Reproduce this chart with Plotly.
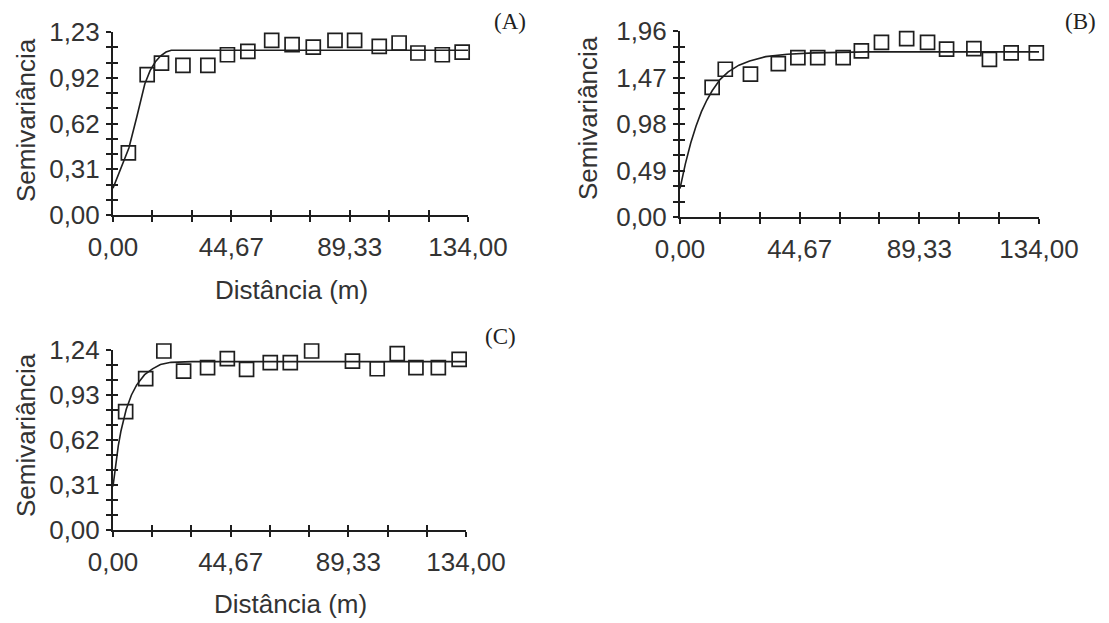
import plotly.graph_objects as go

# ---------------- data ----------------
# Panel A
a_dist = [5.8, 12.9, 18.3, 26.4, 35.8, 43.2, 50.9, 59.9, 67.6, 75.6, 83.8, 91.2, 100.5, 108.0, 115.1, 124.3, 131.8]
a_semi = [0.417, 0.943, 1.021, 1.006, 1.006, 1.077, 1.100, 1.174, 1.145, 1.129, 1.174, 1.174, 1.133, 1.156, 1.089, 1.077, 1.095]
a_model_dist = [0, 3, 6, 9, 12, 14, 16, 18, 20, 22, 134]
a_model_semi = [0.18, 0.31, 0.45, 0.66, 0.88, 0.97, 1.03, 1.07, 1.095, 1.107, 1.107]

# Panel B
b_dist = [12.0, 16.9, 26.3, 36.7, 44.0, 51.4, 60.9, 67.7, 75.2, 84.6, 92.4, 99.5, 109.7, 115.5, 123.6, 133.0]
b_semi = [1.365, 1.557, 1.505, 1.617, 1.680, 1.680, 1.680, 1.750, 1.840, 1.880, 1.840, 1.770, 1.775, 1.660, 1.730, 1.730]
b_model_dist = [0, 2, 4, 6, 8, 10, 12, 15, 18, 22, 26, 32, 40, 50, 70, 134]
b_model_semi = [0.30, 0.56, 0.78, 0.96, 1.11, 1.23, 1.33, 1.45, 1.53, 1.60, 1.645, 1.69, 1.715, 1.73, 1.74, 1.74]

# Panel C
c_dist = [4.8, 12.4, 19.3, 26.8, 35.9, 43.4, 50.7, 59.7, 67.3, 75.4, 83.7, 90.9, 100.3, 107.9, 115.0, 123.5, 131.4]
c_semi = [0.815, 1.043, 1.233, 1.095, 1.118, 1.180, 1.107, 1.153, 1.153, 1.233, 1.245, 1.164, 1.111, 1.215, 1.118, 1.118, 1.176]
c_model_dist = [0, 1, 2, 3, 4, 5, 7, 9, 12, 15, 18, 22, 30, 134]
c_model_semi = [0.30, 0.45, 0.58, 0.68, 0.76, 0.83, 0.93, 1.00, 1.07, 1.11, 1.14, 1.155, 1.16, 1.16]

# tick labels
x_max = 134.0
x_tick_labels = ["0,00", "44,67", "89,33", "134,00"]
a_y_max = 1.23
a_y_labels = ["0,00", "0,31", "0,62", "0,92", "1,23"]
b_y_max = 1.96
b_y_labels = ["0,00", "0,49", "0,98", "1,47", "1,96"]
c_y_max = 1.24
c_y_labels = ["0,00", "0,31", "0,62", "0,93", "1,24"]
panel_letters = ["(A)", "(B)", "(C)"]
x_title = "Distância (m)"
y_title = "Semivariância"

# ---------------- figure ----------------
W, H = 1109, 623
INK = "#1e1e1e"
TXT = "#333333"
FONT = "Liberation Sans, Arial, sans-serif"
TICKFONT = dict(family=FONT, size=26, color=TXT)


def px_x(p):
    return p / W


def px_y(p):
    return 1 - p / H


def ticks(vmax, n_minor_per_major, labels):
    n = (len(labels) - 1) * n_minor_per_major
    vals = [vmax * i / n for i in range(n + 1)]
    text = []
    for i in range(n + 1):
        text.append(labels[i // n_minor_per_major] if i % n_minor_per_major == 0 else "")
    return vals, text


panels = [
    dict(dist=a_dist, semi=a_semi, mx=a_model_dist, my=a_model_semi, ymax=a_y_max, ylab=a_y_labels,
         xd=(113, 468), yd=(215, 32)),
    dict(dist=b_dist, semi=b_semi, mx=b_model_dist, my=b_model_semi, ymax=b_y_max, ylab=b_y_labels,
         xd=(680, 1039), yd=(217, 31)),
    dict(dist=c_dist, semi=c_semi, mx=c_model_dist, my=c_model_semi, ymax=c_y_max, ylab=c_y_labels,
         xd=(113, 466), yd=(530, 350)),
]

fig = go.Figure()
layout = dict(
    width=W, height=H,
    margin=dict(l=0, r=0, t=0, b=0, autoexpand=False),
    paper_bgcolor="white", plot_bgcolor="rgba(0,0,0,0)",
    showlegend=False,
)

for i, p in enumerate(panels):
    k = i + 1
    ko = i + 4
    xs = "" if k == 1 else str(k)
    ys = xs
    xvals, xtext = ticks(x_max, 3, x_tick_labels)
    yvals, ytext = ticks(p["ymax"], 3, p["ylab"])
    xdom = [px_x(p["xd"][0]), px_x(p["xd"][1])]
    ydom = [px_y(p["yd"][0]), px_y(p["yd"][1])]

    # fitted model on the main axes
    fig.add_trace(go.Scatter(
        x=p["mx"], y=p["my"], mode="lines",
        line=dict(color=INK, width=1.6),
        xaxis="x" + xs, yaxis="y" + ys, cliponaxis=False, hoverinfo="skip"))
    # experimental points on the overlay axes (same ranges) -> inner halves of crossing ticks
    fig.add_trace(go.Scatter(
        x=p["dist"], y=p["semi"], mode="markers",
        marker=dict(symbol="square-open", size=14, color=INK, line=dict(width=1.7, color=INK)),
        xaxis="x" + str(ko), yaxis="y" + str(ko), cliponaxis=False))

    common_x = dict(range=[0, x_max], tickvals=xvals, showgrid=False, zeroline=False,
                    fixedrange=True, automargin=False)
    common_y = dict(range=[0, p["ymax"]], tickvals=yvals, showgrid=False, zeroline=False,
                    fixedrange=True, automargin=False)

    layout["xaxis" + xs] = dict(
        **common_x, domain=xdom, anchor="y" + ys,
        ticktext=xtext, ticks="outside", ticklen=5, tickwidth=1.8, tickcolor=INK,
        showline=True, linecolor=INK, linewidth=2,
        tickfont=TICKFONT, ticklabelstandoff=3)
    layout["yaxis" + ys] = dict(
        **common_y, domain=ydom, anchor="x" + xs,
        ticktext=ytext, ticks="outside", ticklen=5, tickwidth=1.8, tickcolor=INK,
        showline=True, linecolor=INK, linewidth=2,
        tickfont=TICKFONT, ticklabelstandoff=1)
    layout["xaxis" + str(ko)] = dict(
        **common_x, domain=xdom, overlaying="x" + xs, anchor="y" + ys, side="bottom",
        ticks="inside", ticklen=5, tickwidth=1.8, tickcolor=INK,
        showline=False, showticklabels=False)
    layout["yaxis" + str(ko)] = dict(
        **common_y, domain=ydom, overlaying="y" + ys, anchor="x" + xs, side="left",
        ticks="inside", ticklen=5, tickwidth=1.8, tickcolor=INK,
        showline=False, showticklabels=False)

annotations = []
# y titles
for xc, yc in [(26, 120), (588, 118), (26, 435)]:
    annotations.append(dict(
        text=y_title, x=px_x(xc), y=px_y(yc), xref="paper", yref="paper",
        showarrow=False, textangle=-90, xanchor="center", yanchor="middle",
        font=dict(family=FONT, size=26, color=TXT)))
# x titles
for xc, yc in [(291, 290), (290, 604)]:
    annotations.append(dict(
        text=x_title, x=px_x(xc), y=px_y(yc), xref="paper", yref="paper",
        showarrow=False, xanchor="center", yanchor="middle",
        font=dict(family=FONT, size=26, color=TXT)))
# panel letters
for lab, (xc, yc) in zip(panel_letters, [(510, 22), (1080, 22), (500, 336)]):
    annotations.append(dict(
        text=lab, x=px_x(xc), y=px_y(yc), xref="paper", yref="paper",
        showarrow=False, xanchor="center", yanchor="middle",
        font=dict(family="Liberation Serif, Times New Roman, serif", size=23, color="#222222")))

layout["annotations"] = annotations
fig.update_layout(**layout)
fig.write_html(
    "out.html",
    config={"displayModeBar": False},
    post_script="document.body.style.margin='0';document.body.style.padding='0';"
                "document.body.style.overflow='hidden';",
)
